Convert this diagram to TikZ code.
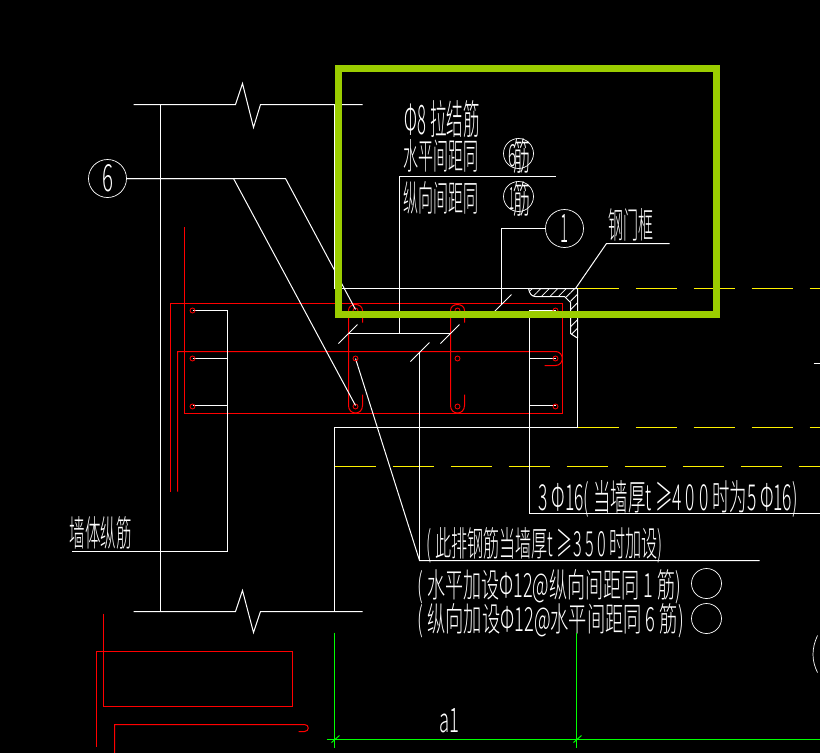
\documentclass[tikz,border=0pt]{standalone}
\usepackage{fontspec}
\newfontfamily\cjk{Noto Sans CJK SC Light}
\usetikzlibrary{patterns.meta}
\definecolor{framegreen}{RGB}{155,205,0}
\def\cadtxt#1#2#3{\resizebox{#1pt}{#2pt}{#3}}
\tikzset{
	wline/.style={draw=white, line width=1pt},
	rline/.style={draw=red, line width=1pt},
	gline/.style={draw=green, line width=1pt},
	yline/.style={draw=yellow, line width=1pt, dash pattern=on 41pt off 17pt},
	cadtext/.style={text=white, inner sep=0pt, anchor=base west, font=\cjk},
	bubble/.style={draw=white, line width=0.7pt, circle, inner sep=0pt, text=white, font=\cjk},
	bubbleL/.style={bubble, minimum size=38pt},
	bubbleS/.style={bubble, minimum size=30pt},
}

\begin{document}
\begin{tikzpicture}[x=1pt, y=-1pt]
	%%%%% START %%%%%
	\useasboundingbox (0, 0) rectangle (820, 753);
	\fill[black] (0, 0) rectangle (820, 753);

	\begin{scope}[shift={(0.5, 0.5)}]
	% wall with break marks
	\draw[wline] (133, 104) -- (235, 104) -- (242, 83) -- (253, 127) -- (260, 104) -- (362, 104);
	\draw[wline] (133, 611) -- (235, 611) -- (242, 590) -- (253, 632) -- (260, 611) -- (362, 611);
	\draw[wline] (160, 104) -- (160, 611);
	\draw[wline] (334, 104) -- (334, 288) -- (577, 288) -- (577, 427) -- (334, 427) -- (334, 611);

	% door frame
	\draw[wline, pattern={Lines[angle=45, distance=6pt, line width=0.8pt]}, pattern color=white]
		(528, 288) .. controls (529, 293) and (531, 296) .. (535, 296) -- (564, 296) -- (570, 302)
		-- (570, 333) -- (576, 337) -- (577, 337) -- (577, 288) -- cycle;

	% axis lines
	\draw[yline] (577, 288) -- (820, 288);
	\draw[yline] (577, 427) -- (820, 427);
	\draw[yline] (334, 466) -- (820, 466);

	% bars
	\draw[rline] (170, 491) -- (170, 303) -- (562, 303) -- (562, 413) -- (184, 413) -- (184, 226);
	\draw[rline] (177, 491) -- (177, 351) -- (555, 351) .. controls (564, 351) and (564, 365) .. (555, 365) -- (544, 365);
	\foreach \xpos in {355, 457} {
		\draw[rline] (\xpos+7, 322) -- (\xpos+7, 310) .. controls (\xpos+7, 302) and (\xpos-7, 302) .. (\xpos-7, 310)
			-- (\xpos-7, 405) .. controls (\xpos-7, 415) and (\xpos+7, 415) .. (\xpos+7, 405) -- (\xpos+7, 394);
	}

	% leaders
	\draw[wline] (192, 310) -- (227, 310) -- (227, 551) -- (71, 551);
	\draw[wline] (192, 358) -- (227, 358);
	\draw[wline] (192, 405) -- (227, 405);
	\draw[wline] (555, 310) -- (529, 310) -- (529, 513) -- (820, 513);
	\draw[wline] (555, 358) -- (529, 358);
	\draw[wline] (555, 405) -- (529, 405);
	\draw[wline] (555, 176) -- (399, 176) -- (399, 333);
	\draw[wline] (348, 333) -- (449, 333);
	\draw[wline] (419, 351) -- (419, 560);
	\draw[wline] (355, 358) -- (419, 560) -- (759, 560);
	\draw[wline] (575, 288) -- (606, 243) -- (669, 243);

	% slashes
	\draw[wline] (338, 343) -- (357, 324);
	\draw[wline] (410, 361) -- (429, 342);
	\draw[wline] (440, 343) -- (459, 324);
	\draw[wline] (494, 311) -- (511, 294);

	% bar sections
	\foreach \xpos in {192, 355, 457, 555} {
		\foreach \ypos in {310, 358, 406} {
			\draw[draw=red, line width=0.8pt] (\xpos, \ypos) circle (2.5);
		}
	}

	% numbered circles
	\node[bubbleL] (c6) at (107, 178) {\cadtxt{11}{27}{6}};
	\node[bubbleL] (c1) at (564, 228) {\cadtxt{8}{28}{1}};
	\draw[wline] (c6) -- (285, 178) -- (355, 309);
	\draw[wline] (c6) -- (233, 178) -- (355, 405);
	\draw[wline] (c1) -- (501, 228) -- (501, 303);

	\node[bubbleS] (c6a) at (518, 153) {};
	\node[bubbleS] (c1a) at (518, 196) {};
	\node[bubbleS] (c1b) at (706, 583) {};
	\node[bubbleS] (c6b) at (706, 618) {};
	\node[cadtext] (t6a) at (508, 166) {\cadtxt{8}{22}{6}};
	\node[cadtext] (t6b) at (513, 170) {\cadtxt{17}{32}{筋}};
	\node[cadtext] (t1a) at (509, 209) {\cadtxt{5}{22}{1}};
	\node[cadtext] (t1b) at (513, 213) {\cadtxt{17}{32}{筋}};

	% labels
	\node[cadtext] (lab1) at (404, 134) {\cadtxt{75}{34}{Φ8 拉结筋}};
	\node[cadtext] (lab2) at (403, 169) {\cadtxt{75}{30}{水平间距同}};
	\node[cadtext] (lab3) at (403, 211) {\cadtxt{75}{30}{纵向间距同}};
	\node[cadtext] (lab4) at (608, 238) {\cadtxt{45}{30}{钢门框}};
	\node[cadtext] (lab5) at (69, 546) {\cadtxt{62}{30}{墙体纵筋}};
	\node[cadtext] (lab6) at (538, 510) {\cadtxt{259}{30}{3 Φ16( 当墙厚t ≥4 0 0 时为5 Φ16)}};
	\node[cadtext] (lab7) at (426, 556) {\cadtxt{236}{29}{( 此排钢筋当墙厚t ≥3 5 0 时加设)}};
	\node[cadtext] (lab8) at (417, 597) {\cadtxt{263}{28}{( 水平加设Φ12@纵向间距同 1  筋)}};
	\node[cadtext] (lab9) at (417, 631) {\cadtxt{266}{28}{( 纵向加设Φ12@水平间距同 6  筋)}};
	\node[cadtext] (lab10) at (439, 732) {\cadtxt{20}{24}{a1}};

	% bottom details
	\draw[rline] (103, 613) -- (103, 706) -- (292, 706) -- (292, 651) -- (96, 651) -- (96, 746);
	\draw[rline] (114, 753) -- (114, 724) -- (304, 724) .. controls (309, 724) and (309, 731) .. (304, 731) -- (298, 731);

	% dimension line
	\draw[gline] (326, 739) -- (820, 739);
	\draw[gline] (334, 632) -- (334, 747);
	\draw[gline] (576, 632) -- (576, 747);
	\draw[gline] (331, 742) -- (339, 735);
	\draw[gline] (573, 742) -- (581, 735);

	% cut off at the edge
	\draw[wline] (813, 363) -- (820, 363);
	\draw[wline, line width=0.7pt] (817, 635) .. controls (811, 648) and (811, 660) .. (817, 672);
	\end{scope}

	% marked frame
	\draw[draw=framegreen, line width=7pt] (338.5, 68.5) rectangle (716.5, 314.5);
	%%%%% END %%%%%
\end{tikzpicture}
\end{document}
